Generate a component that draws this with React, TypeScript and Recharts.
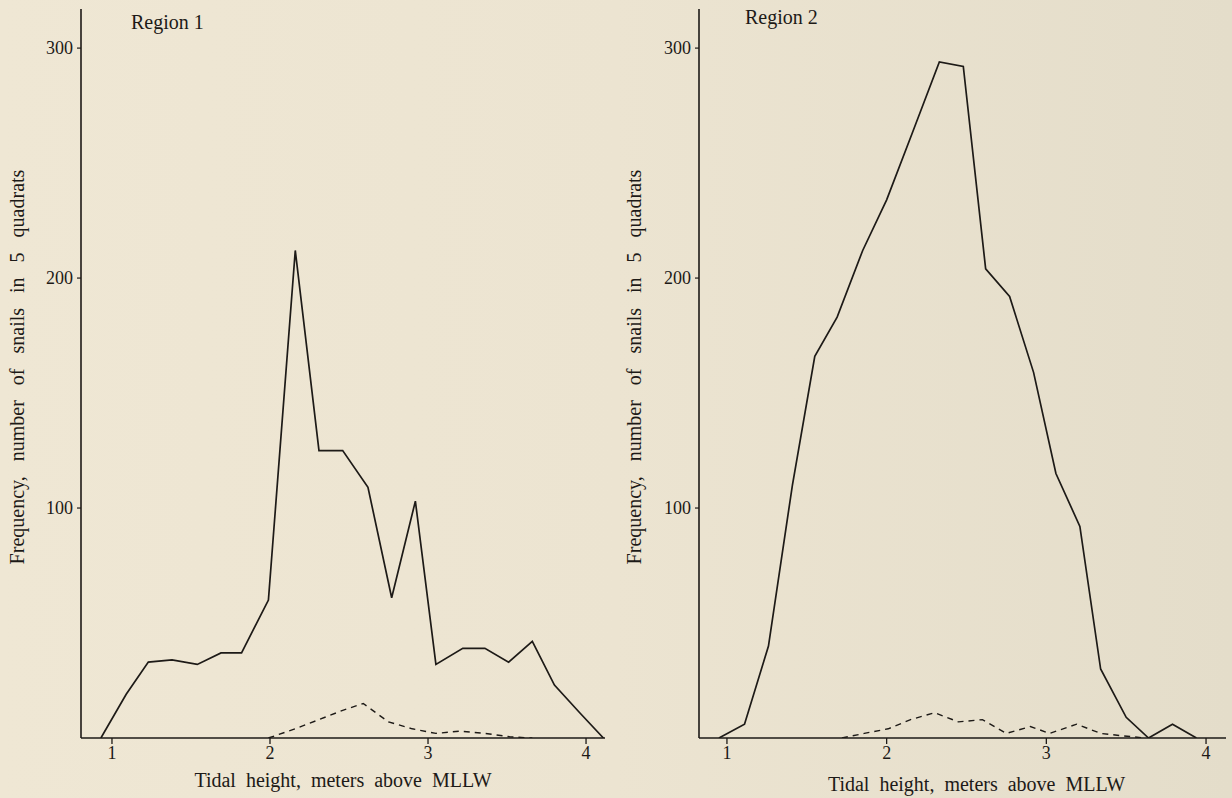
import { LineChart, Line, XAxis, YAxis } from "recharts";

const INK = "#1d1a17";
const SERIF = "'Liberation Serif', 'DejaVu Serif', serif";

const xTicks = [1, 2, 3, 4];
const yTicks = [100, 200, 300];

// Region 1
const r1Heights = [0.93, 1.09, 1.23, 1.38, 1.54, 1.69, 1.82, 1.99, 2.16, 2.31, 2.46, 2.62, 2.77, 2.92, 3.05, 3.22, 3.36, 3.51, 3.66, 3.8, 3.96, 4.11];
const r1Solid = [0, 19, 33, 34, 32, 37, 37, 60, 212, 125, 125, 109, 61, 103, 32, 39, 39, 33, 42, 23, 11, 0];
const r1DashHeights = [1.99, 2.16, 2.31, 2.46, 2.59, 2.75, 2.9, 3.05, 3.2, 3.36, 3.52, 3.66];
const r1Dashed = [0, 4, 8, 12, 15, 7, 4, 2, 3, 2, 0.5, 0];

// Region 2
const r2Heights = [0.95, 1.11, 1.26, 1.41, 1.55, 1.69, 1.85, 2.0, 2.16, 2.33, 2.48, 2.62, 2.77, 2.92, 3.06, 3.21, 3.34, 3.5, 3.64, 3.79, 3.94];
const r2Solid = [0, 6, 40, 110, 166, 183, 212, 234, 263, 294, 292, 204, 192, 159, 115, 92, 30, 9, 0, 6, 0];
const r2DashHeights = [1.72, 1.86, 2.01, 2.15, 2.3, 2.45, 2.6, 2.75, 2.9, 3.02, 3.19, 3.34, 3.47, 3.62];
const r2Dashed = [0, 2, 4, 8, 11, 7, 8, 2, 5, 2, 6, 2, 1, 0];

const toPoints = (xs: number[], ys: number[]) => xs.map((x, i) => ({ x, y: ys[i] }));

function Panel({ left, width, rightMargin, domain, solid, dashed, title, titleLeft, titleTop, xLabelTop, xLabelShift, yLabelX }: any) {
  const plotLeft = 81;
  const plotRight = width - rightMargin;
  return (
    <div style={{ position: "absolute", left, top: 0, width, height: 798 }}>
      <LineChart width={width} height={798} margin={{ top: 9, right: rightMargin, bottom: 0, left: 0 }}>
        <XAxis
          type="number"
          dataKey="x"
          domain={domain}
          allowDataOverflow
          ticks={xTicks}
          interval={0}
          height={798 - 738}
          axisLine={{ stroke: INK, strokeWidth: 1.6 }}
          tickLine={{ stroke: INK, strokeWidth: 1.3 }}
          tickSize={6}
          tickMargin={2}
          tick={{ fill: INK, fontSize: 18, fontFamily: SERIF }}
        />
        <YAxis
          type="number"
          domain={[0, 317]}
          allowDataOverflow
          ticks={yTicks}
          interval={0}
          width={plotLeft}
          axisLine={{ stroke: INK, strokeWidth: 1.6 }}
          tickLine={{ stroke: INK, strokeWidth: 1.2 }}
          tickSize={4}
          tickMargin={4}
          tick={{ fill: INK, fontSize: 18, fontFamily: SERIF }}
        />
        <Line data={solid} dataKey="y" type="linear" stroke={INK} strokeWidth={1.7} dot={false} isAnimationActive={false} />
        <Line data={dashed} dataKey="y" type="linear" stroke={INK} strokeWidth={1.4} strokeDasharray="6 5" dot={false} isAnimationActive={false} />
      </LineChart>
      <div style={{ position: "absolute", left: titleLeft, top: titleTop, fontFamily: SERIF, fontSize: 20, lineHeight: 1, color: INK, whiteSpace: "nowrap" }}>
        {title}
      </div>
      <div style={{ position: "absolute", left: plotLeft + xLabelShift, width: plotRight - plotLeft, top: xLabelTop, textAlign: "center", fontFamily: SERIF, fontSize: 20, lineHeight: 1, color: INK, wordSpacing: 5, whiteSpace: "nowrap" }}>
        Tidal height, meters above MLLW
      </div>
      <div
        style={{
          position: "absolute",
          left: yLabelX,
          top: 367,
          transform: "translate(-50%, -50%) rotate(-90deg)",
          fontFamily: SERIF,
          fontSize: 20,
          lineHeight: 1,
          color: INK,
          wordSpacing: 10,
          whiteSpace: "nowrap",
        }}
      >
        Frequency, number of snails in 5 quadrats
      </div>
    </div>
  );
}

export default function App() {
  return (
    <div
      style={{
        position: "absolute",
        left: 0,
        top: 0,
        width: 1232,
        height: 798,
        overflow: "hidden",
        background: "linear-gradient(90deg, #efe7d4 0%, #ece4d1 50%, #e4ddca 100%)",
      }}
    >
      <Panel
        left={0}
        width={620}
        rightMargin={15}
        domain={[0.804, 4.12]}
        solid={toPoints(r1Heights, r1Solid)}
        dashed={toPoints(r1DashHeights, r1Dashed)}
        title="Region 1"
        titleLeft={131}
        titleTop={12}
        xLabelTop={770}
        xLabelShift={0}
        yLabelX={17}
      />
      <Panel
        left={618}
        width={614}
        rightMargin={6}
        domain={[0.825, 4.125]}
        solid={toPoints(r2Heights, r2Solid)}
        dashed={toPoints(r2DashHeights, r2Dashed)}
        title="Region 2"
        titleLeft={127}
        titleTop={7}
        xLabelTop={774}
        xLabelShift={14}
        yLabelX={16}
      />
    </div>
  );
}
